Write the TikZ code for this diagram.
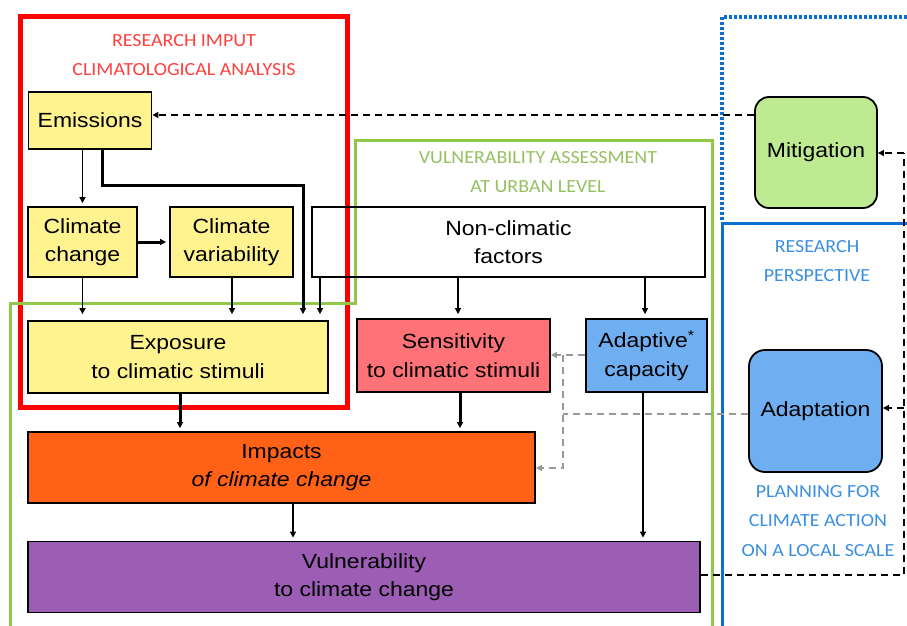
\documentclass[tikz,border=0pt]{standalone}
\usepackage{fontspec}
\setmainfont{Liberation Sans}[FakeStretch=1.12]
\newfontfamily\labfont{Carlito}[FakeStretch=1.08]
\usetikzlibrary{arrows.meta}

\definecolor{cYellow}{HTML}{FFF38F}
\definecolor{cPink}{HTML}{FF7378}
\definecolor{cBlue}{HTML}{6FAEF0}
\definecolor{cOrange}{HTML}{FF6116}
\definecolor{cPurple}{HTML}{9C5DB4}
\definecolor{cLGreen}{HTML}{BEEB92}
\definecolor{cFrameRed}{HTML}{FF0000}
\definecolor{cFrameGreen}{HTML}{92C84A}
\definecolor{cFrameBlue}{HTML}{0A6FD0}
\definecolor{cTxtRed}{HTML}{FF4040}
\definecolor{cTxtGreen}{HTML}{95C060}
\definecolor{cTxtBlue}{HTML}{3A8FE0}
\definecolor{cGrey}{HTML}{999999}

\tikzset{
  box/.style={draw=black, line width=1.8pt, inner sep=0pt, align=center,
    font=\fontsize{20.5}{28.5}\selectfont},
  rbox/.style={box, rounded corners=14pt},
  lab/.style={font=\labfont\fontsize{18.5}{29}\selectfont, align=center, inner sep=0pt},
  arr/.style={-{Triangle[length=6pt,width=6pt]}, line width=1.5pt, shorten >=3pt},
  tarr/.style={arr, line width=3pt},
  dsh/.style={line width=1.8pt, dash pattern=on 7pt off 5pt},
  dsharr/.style={dsh, -{Triangle[length=6pt,width=6pt]}},
  gdsh/.style={dsh, line width=2.3pt, draw=cGrey},
  gdsharr/.style={dsharr, line width=2.3pt, draw=cGrey, color=cGrey},
}

\begin{document}
\begin{tikzpicture}[x=1pt, y=-1pt]
\useasboundingbox (0,0) rectangle (907,626);

% frames
\draw[cFrameRed, line width=5pt] (20,17) rectangle (347,407);
\draw[cFrameGreen, line width=3pt] (10,626) -- (10,303) -- (355,303) -- (355,140) -- (712,140) -- (712,626);
\draw[cFrameBlue, line width=3.5pt, dash pattern=on 3pt off 2pt] (722,220) -- (722,17) -- (907,17);
\draw[cFrameBlue, line width=3pt] (907,223) -- (722,223) -- (722,626);

% frame titles
\node[lab, text=cTxtRed] (tRed1) at (184,41) {RESEARCH IMPUT};
\node[lab, text=cTxtRed] (tRed2) at (184,70) {CLIMATOLOGICAL ANALYSIS};
\node[lab, text=cTxtGreen] (tGreen1) at (538,158) {VULNERABILITY ASSESSMENT};
\node[lab, text=cTxtGreen] (tGreen2) at (538,187) {AT URBAN LEVEL};
\node[lab, text=cTxtBlue] (tBlue1) at (817,247) {RESEARCH};
\node[lab, text=cTxtBlue] (tBlue2) at (817,276) {PERSPECTIVE};
\node[lab, text=cTxtBlue] (tBlue3) at (818,492) {PLANNING FOR};
\node[lab, text=cTxtBlue] (tBlue4) at (818,521) {CLIMATE ACTION};
\node[lab, text=cTxtBlue] (tBlue5) at (818,551) {ON A LOCAL SCALE};

% boxes
\node[box, fill=cYellow, minimum width=123pt, minimum height=57pt] (em) at (90,120.5) {Emissions};
\node[box, fill=cYellow, minimum width=109pt, minimum height=70pt] (cc) at (82.5,242) {Climate\\change};
\node[box, fill=cYellow, minimum width=123pt, minimum height=70pt] (cv) at (231.5,242) {Climate\\variability};
\node[box, line width=1.2pt, minimum width=393pt, minimum height=70pt] (nc) at (508.5,242) {Non-climatic\\factors};
\node[box, fill=cYellow, minimum width=300pt, minimum height=72pt] (ex) at (178,357) {Exposure\\to climatic stimuli};
\node[box, fill=cPink, minimum width=193pt, minimum height=73pt] (se) at (453.5,355.5) {Sensitivity\\to climatic stimuli};
\node[box, fill=cBlue, minimum width=121pt, minimum height=73pt] (ad) at (646.5,355.5) {Adaptive\textsuperscript{*}\\capacity};
\node[box, fill=cOrange, minimum width=507pt, minimum height=71pt] (im) at (281.5,467.5) {Impacts\\\itshape of climate change};
\node[box, fill=cPurple, minimum width=672pt, minimum height=71pt] (vu) at (364,577) {Vulnerability\\to climate change};
\node[rbox, fill=cLGreen, minimum width=122pt, minimum height=111pt] (mi) at (816,152.5) {Mitigation};
\node[rbox, fill=cBlue, rounded corners=16pt, minimum width=133pt, minimum height=122pt] (ap) at (815.5,411) {\raisebox{3pt}{Adaptation}};

% bend points
\coordinate (k1) at (102,185);
\coordinate (k2) at (303,185);
\coordinate (xa) at (82.5,0);
\coordinate (xb) at (232,0);
\coordinate (xc) at (320,0);
\coordinate (xd) at (458,0);
\coordinate (xe) at (645,0);
\coordinate (xf) at (180,0);
\coordinate (xg) at (460,0);
\coordinate (xh) at (293,0);
\coordinate (xi) at (643,0);
\coordinate (d1) at (0,115);
\coordinate (r1) at (904,575);
\coordinate (r2) at (904,153);
\coordinate (r3) at (904,408);
\coordinate (g1) at (563,414);
\coordinate (g2) at (563,355);
\coordinate (g3) at (563,468);

% solid connectors
\draw[arr] (em.south -| xa) -- (cc.north);
\draw[tarr, shorten >=6pt] (em.south -| k1) -- (k1) -- (k2) -- (k2 |- ex.north);
\draw[tarr] (cc.east |- cv.west) -- (cv.west);
\draw[arr, shorten >=6pt] (cc.south -| xa) -- (ex.north -| xa);
\draw[arr, shorten >=6pt] (cv.south -| xb) -- (ex.north -| xb);
\draw[arr, shorten >=6pt] (nc.south -| xc) -- (ex.north -| xc);
\draw[arr, shorten >=4pt] (nc.south -| xd) -- (se.north -| xd);
\draw[arr, shorten >=4pt] (nc.south -| xe) -- (ad.north -| xe);
\draw[tarr] (ex.south -| xf) -- (im.north -| xf);
\draw[tarr] (se.south -| xg) -- (im.north -| xg);
\draw[arr] (im.south -| xh) -- (vu.north -| xh);
\draw[arr] (ad.south -| xi) -- (vu.north -| xi);

% dashed feedback connectors
\draw[dsharr] (mi.west |- d1) -- (em.east |- d1);
\draw[dsh] (vu.east |- r1) -- (r1) -- (r2);
\draw[dsharr] (r2) -- (mi.east |- r2);
\draw[dsharr] (r3) -- (ap.east |- r3);

% grey dashed connectors
\draw[gdsh] (ap.west |- g1) -- (g1);
\draw[gdsharr] (ad.west |- g2) -- (se.east |- g2);
\draw[gdsharr] (g2) -- (g3) -- (im.east |- g3);
\end{tikzpicture}
\end{document}
